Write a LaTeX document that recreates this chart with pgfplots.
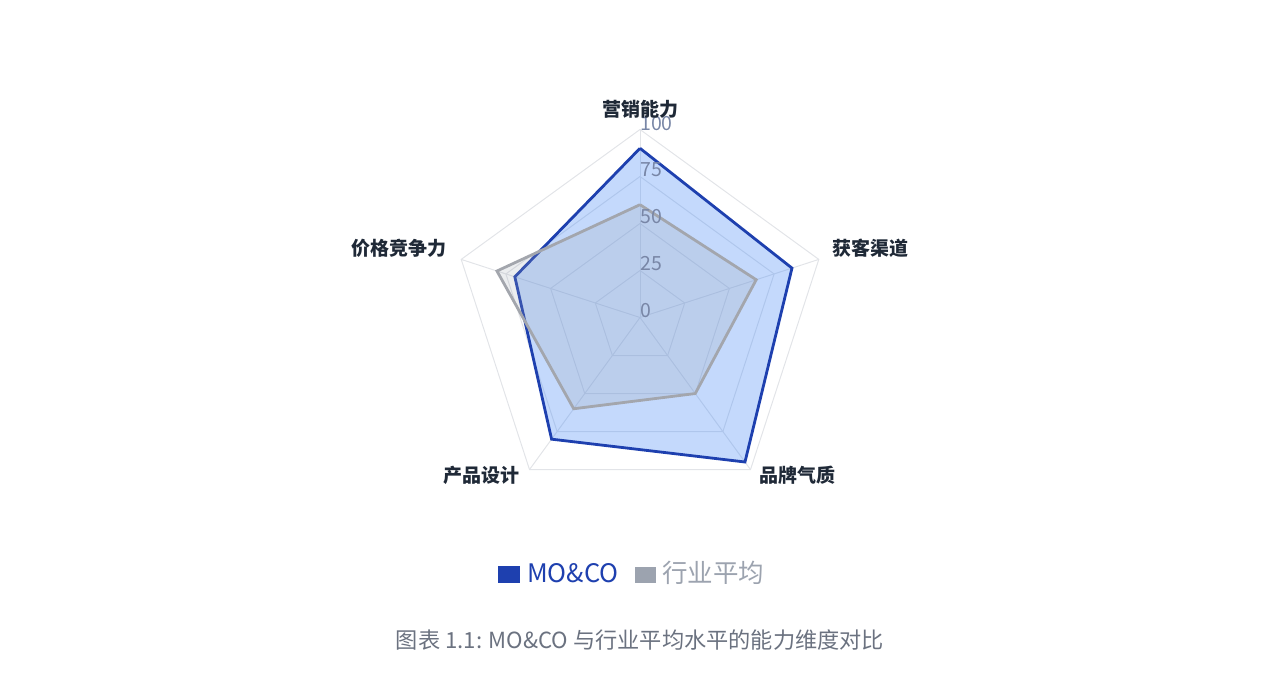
\documentclass[border=0pt]{standalone}
\usepackage{fontspec}
\setmainfont{Noto Sans CJK SC}
\usepackage{pgfplots}
\usepackage{pgfplotstable}
\pgfplotsset{compat=1.18}
\usepgfplotslibrary{polar}

\definecolor{blueLine}{HTML}{1E40AF}
\definecolor{blueFill}{HTML}{3B82F6}
\definecolor{grayLine}{HTML}{A3A6AD}
\definecolor{grayFill}{HTML}{9CA3AF}
\definecolor{gridc}{HTML}{E2E4E8}
\definecolor{tickc}{HTML}{7886A6}
\definecolor{labc}{HTML}{1F2937}
\definecolor{capc}{HTML}{6B7280}

% angle (deg, counter-clockwise from east)  value
\pgfplotstableread{
ang r
90  90
18  85
-54 95
234 80
162 70
90  90
}\moco
\pgfplotstableread{
ang r
90  60
18  65
-54 50
234 60
162 80
90  60
}\industry

\begin{document}
\begin{tikzpicture}[x=1pt,y=1pt]
\path[use as bounding box] (0,0) rectangle (1279,694);

\begin{axis}[
  at={(640pt,376.5pt)}, anchor=center,
  width=376pt, height=376pt, scale only axis,
  xmin=-100, xmax=100, ymin=-100, ymax=100,
  hide axis, clip=false,
]
  % pentagon grid
  \pgfplotsinvokeforeach{25,50,75,100}{
    \addplot[gridc, line width=1pt, data cs=polar]
      coordinates {(90,#1)(18,#1)(-54,#1)(234,#1)(162,#1)(90,#1)};
  }
  \pgfplotsinvokeforeach{90,18,-54,234,162}{
    \addplot[gridc, line width=1pt, data cs=polar] coordinates {(#1,0)(#1,100)};
  }
  % series
  \addplot[draw=blueLine, line width=2.8pt, fill=blueFill, fill opacity=0.3,
    data cs=polar] table[x=ang, y=r] {\moco};
  \addplot[draw=grayLine, line width=2.8pt, fill=grayFill, fill opacity=0.2,
    data cs=polar] table[x=ang, y=r] {\industry};
\end{axis}

% radial tick labels
\begin{scope}[every node/.style={anchor=west, inner sep=0pt, text=tickc,
    font=\fontsize{19.5}{22}\selectfont}]
  \node at (640,570) {100};
  \node at (640,524) {75};
  \node at (640,477) {50};
  \node at (640,430) {25};
  \node at (640,383) {0};
\end{scope}

% category labels
\begin{scope}[every node/.style={inner sep=0pt, text=labc,
    font=\fontsize{19}{22}\selectfont\bfseries}]
  \node at (640,585) {营销能力};
  \node[anchor=west] at (832,446) {获客渠道};
  \node[anchor=west] at (759,219) {品牌气质};
  \node[anchor=east] at (520,219) {产品设计};
  \node[anchor=east] at (447,446) {价格竞争力};
\end{scope}

% legend
\fill[blueLine] (498,110.7) rectangle (520,128);
\node[anchor=west, inner sep=0pt, text=blueLine, font=\fontsize{25.5}{28}\selectfont]
  at (527,121.3) {MO\&CO};
\fill[grayFill] (634.5,110.7) rectangle (656,126.7);
\node[anchor=west, inner sep=0pt, text=grayFill, font=\fontsize{25.5}{28}\selectfont]
  at (662,121.3) {行业平均};

% caption
\node[inner sep=0pt, text=capc, font=\fontsize{22.2}{25}\selectfont]
  at (640,54) {图表 1.1: MO\&CO 与行业平均水平的能力维度对比};
\end{tikzpicture}
\end{document}
